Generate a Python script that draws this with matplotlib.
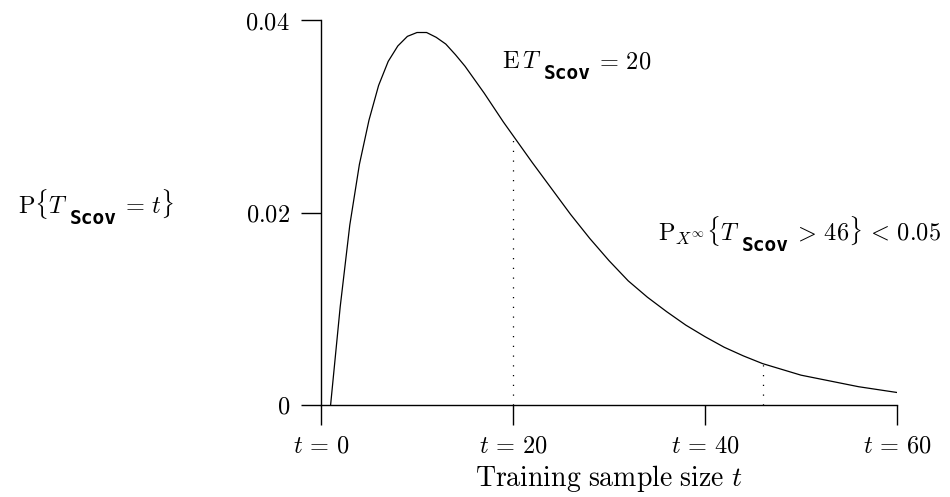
import matplotlib
matplotlib.use("Agg")
import matplotlib.pyplot as plt
import matplotlib.transforms as mtransforms

plt.rcParams.update({
    "mathtext.fontset": "cm",
    "font.family": "serif",
    "font.serif": ["DejaVu Serif"],
    "axes.spines.top": False,
    "axes.spines.right": False,
})

# distribution of the stopping time
t_vals = [1, 2, 3, 4, 5, 6, 7, 8, 9, 10, 11, 12, 13, 14, 15, 16, 17, 18, 19, 20,
          22, 24, 26, 28, 30, 32, 34, 36, 38, 40, 42, 44, 46, 48, 50, 52, 54, 56, 58, 60]
p_vals = [0.0, 0.0102, 0.0187, 0.0250, 0.0296, 0.0332, 0.0357, 0.0373, 0.0383, 0.0387,
          0.0387, 0.0382, 0.0375, 0.0364, 0.0352, 0.0338, 0.0324, 0.0309, 0.0294, 0.0280,
          0.0252, 0.0225, 0.0198, 0.0173, 0.0150, 0.0129, 0.0112, 0.0097, 0.0083, 0.0071,
          0.0060, 0.0051, 0.0043, 0.0037, 0.0031, 0.0027, 0.0023, 0.0019, 0.0016, 0.0013]

marks_t = [20, 46]
marks_p = [0.0280, 0.0043]

x_ticks = [0, 20, 40, 60]
x_ticklabels = [r"$t\,=\,0$", r"$t\,=\,20$", r"$t\,=\,40$", r"$t\,=\,60$"]
y_ticks = [0, 0.02, 0.04]
y_ticklabels = [r"$0$", r"$0.02$", r"$0.04$"]

MATH = dict(fontsize=17.5)
TT = dict(fontsize=14, family=["DejaVu Sans Mono"], weight="bold")

fig = plt.figure(figsize=(9.5, 4.97), dpi=100)
ax = fig.add_axes([321 / 950, 92 / 497, 576 / 950, 385 / 497])

ax.plot(t_vals, p_vals, color="black", linewidth=0.9)
for tm, pm in zip(marks_t, marks_p):
    ax.plot([tm, tm], [0, pm], color="black", linewidth=0.9, linestyle=(0, (1, 6.8)))

ax.set_xlim(0, 60)
ax.set_ylim(0, 0.04)
ax.set_xticks(x_ticks)
ax.set_xticklabels(x_ticklabels, **MATH)
ax.set_yticks(y_ticks)
ax.set_yticklabels(y_ticklabels, **MATH)
ax.tick_params(direction="out", length=14.4, width=1.0, pad=7, color="black")
ax.tick_params(axis="y", pad=8)
for sp in ("left", "bottom"):
    ax.spines[sp].set_linewidth(1.0)

ax.set_xlabel(r"$\mathrm{Training\ sample\ size}\ t$", fontsize=20, labelpad=4)


def put_pieces(x, y, pieces, coords):
    # lay text pieces out left to right; (text, style, gap px, vertical shift px)
    renderer = fig.canvas.get_renderer()
    off = 0.0
    for s, kw, gap, dy in pieces:
        off += gap
        txt = ax.annotate(s, xy=(x, y), xycoords=coords, xytext=(off, dy),
                          textcoords="offset pixels", ha="left", va="baseline",
                          annotation_clip=False, **kw)
        off += txt.get_window_extent(renderer).width


blend = mtransforms.blended_transform_factory(ax.transAxes, ax.transData)
put_pieces(-0.526, 0.01995, [
    (r"$\mathrm{P}\{T$", MATH, 0, 0),
    ("Scov", TT, 2, -11),
    (r"$=\,t\}$", MATH, 4, 0),
], blend)

put_pieces(18.9, 0.0350, [
    (r"$\mathrm{E}\,T$", MATH, 0, 0),
    ("Scov", TT, 2, -11),
    (r"$=\,20$", MATH, 4, 0),
], ax.transData)

put_pieces(35.1, 0.01714, [
    (r"$\mathrm{P}_{X^{\infty}}\{T$", MATH, 0, 0),
    ("Scov", TT, 2, -11),
    (r"$>\,46\}\,<\,0.05$", MATH, 4, 0),
], ax.transData)

fig.savefig("out.png", dpi=100, facecolor="white")
